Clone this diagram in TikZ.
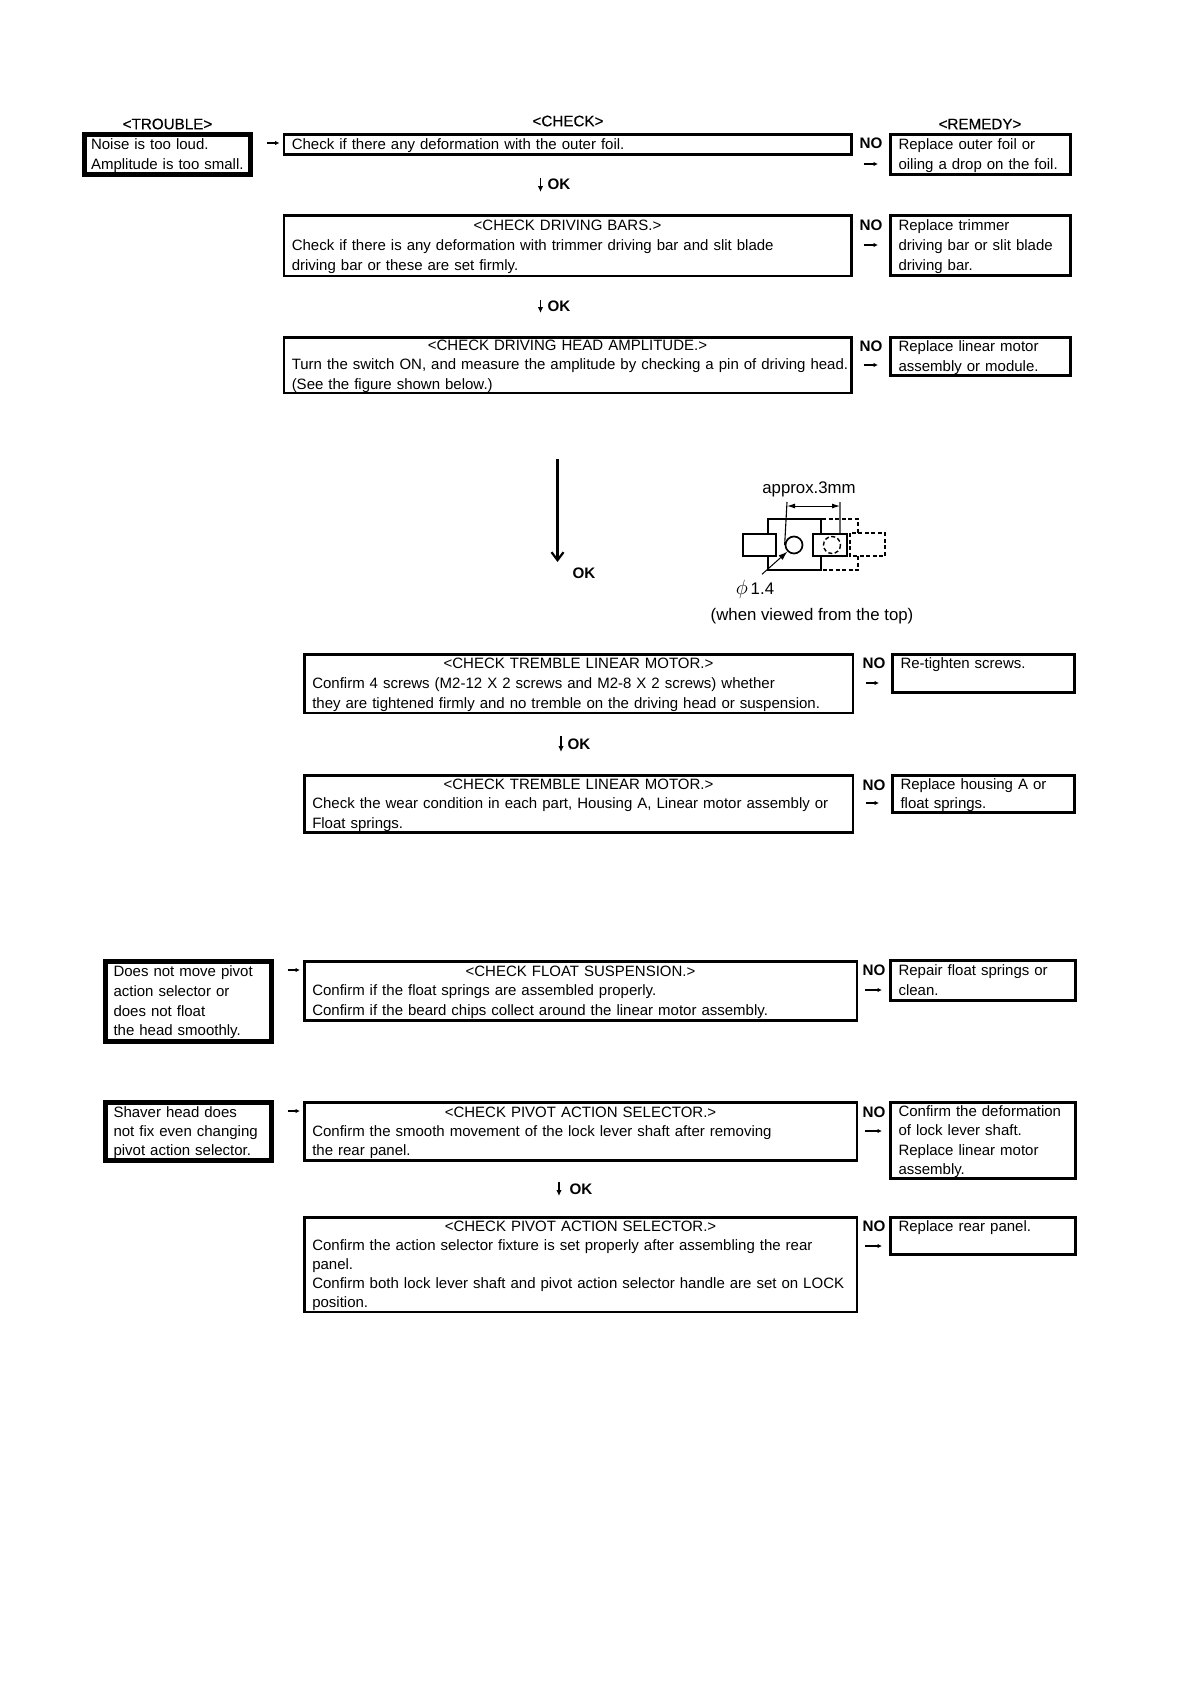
\documentclass[tikz,border=0pt]{standalone}
\usepackage{fontspec}
\setmainfont{Liberation Sans}
\usepackage{tikz}
\usetikzlibrary{positioning,arrows.meta,calc}
\newcommand{\chkhead}[1]{\makebox[\linewidth][c]{#1}}

\begin{document}
\begin{tikzpicture}[
  x=1pt, y=-1pt,
  every node/.style={font=\fontsize{15}{19.7}\selectfont},
  dense/.style={font=\fontsize{15}{19.2}\selectfont},
  chkbox/.style={draw, line width=2.5, anchor=north west, align=left,
    inner xsep=8, inner ysep=0, text width=#1,
    execute at begin node={\rule{0pt}{13pt}},
    execute at end node={\rule[-3pt]{0pt}{3pt}}},
  rembox/.style={chkbox=#1, line width=3},
  trbbox/.style={chkbox=#1, line width=5},
  head/.style={font=\fontsize{15.2}{19.7}\selectfont\addfontfeature{FakeBold=0.3}},
  nolbl/.style={font=\fontsize{15.2}{19.7}\selectfont\bfseries},
  figlbl/.style={font=\fontsize{16.8}{20}\selectfont},
  figline/.style={line width=1.5},
  figrect/.style={draw, rectangle, line width=2, inner sep=0},
  figdash/.style={line width=1.4, dash pattern=on 4pt off 2.5pt},
  flow/.style={-{Latex[length=4.5,width=4.5]}, line width=1.1, shorten <=14, shorten >=3},
  noflow/.style={-{Latex[length=4.5,width=4.5]}, line width=1.1, shorten <=#1, shorten >=#1},
  okflow/.style={-{Latex[length=6,width=5.5]}, line width=1.8, shorten <=#1, shorten >=#1},
  longflow/.style={-{Straight Barb[length=8,width=12]}, line width=2.2}
]
\useasboundingbox (0,0) rectangle (1190,1684);

% column titles
\node[head] (htrouble) at (167.5,124) {<TROUBLE>};
\node[head] (hcheck) at (568,121) {<CHECK>};
\node[head] (hremedy) at (980,124) {<REMEDY>};

% first trouble, upper chain
\node[trbbox=153, inner xsep=6.5, minimum height=40] (t1) at (82,132)
  {Noise is too loud.\\\mbox{Amplitude is too small.}};
\node[chkbox=551.5, minimum height=20] (c1) at (282.5,133)
  {Check if there any deformation with the outer foil.};
\node[chkbox=551.5, minimum height=60.5] (c2) at (282.5,214)
  {\chkhead{<CHECK DRIVING BARS.>}\\
   Check if there is any deformation with trimmer driving bar and slit blade\\
   driving bar or these are set firmly.};
\node[chkbox=551.5, dense, minimum height=55.5] (c3) at (282.5,336)
  {\chkhead{<CHECK DRIVING HEAD AMPLITUDE.>}\\
   \mbox{Turn the switch ON, and measure the amplitude by checking a pin of driving head.}\\
   (See the figure shown below.)};
\node[rembox=164, minimum height=40] (r1) at (889,133)
  {Replace outer foil or\\oiling a drop on the foil.};
\node[rembox=164, minimum height=60] (r2) at (889,214)
  {Replace trimmer\\driving bar or slit blade\\driving bar.};
\node[rembox=164, minimum height=37.5] (r3) at (889,336)
  {Replace linear motor\\assembly or module.};

% lower chain of the first trouble
\node[chkbox=532.5, minimum height=58.5] (c4) at (303,653)
  {\chkhead{<CHECK TREMBLE LINEAR MOTOR.>}\\
   Confirm 4 screws (M2-12 X 2 screws and M2-8 X 2 screws) whether\\
   they are tightened firmly and no tremble on the driving head or suspension.};
\node[chkbox=532.5, minimum height=57] (c5) at (303,774)
  {\chkhead{<CHECK TREMBLE LINEAR MOTOR.>}\\
   Check the wear condition in each part, Housing A, Linear motor assembly or\\
   Float springs.};
\node[rembox=166, minimum height=38] (r4) at (891,653)
  {Re-tighten screws.\\\mbox{}};
\node[rembox=166, minimum height=37] (r5) at (891,774)
  {Replace housing A or\\float springs.};

% float suspension
\node[trbbox=149.5, minimum height=79.5] (t3) at (103,959)
  {Does not move pivot\\action selector or\\does not float\\the head smoothly.};
\node[chkbox=536.5, minimum height=59] (c6) at (303,960)
  {\chkhead{<CHECK FLOAT SUSPENSION.>}\\
   Confirm if the float springs are assembled properly.\\
   Confirm if the beard chips collect around the linear motor assembly.};
\node[rembox=169, minimum height=39.5] (r6) at (889,959)
  {Repair float springs or\\clean.};

% pivot action selector
\node[trbbox=149.5, dense, minimum height=58] (t4) at (103,1100)
  {Shaver head does\\not fix even changing\\pivot action selector.};
\node[chkbox=536.5, dense, minimum height=58] (c7) at (303,1101)
  {\chkhead{<CHECK PIVOT ACTION SELECTOR.>}\\
   Confirm the smooth movement of the lock lever shaft after removing\\
   the rear panel.};
\node[chkbox=536.5, dense, minimum height=94.5] (c8) at (303,1216)
  {\chkhead{<CHECK PIVOT ACTION SELECTOR.>}\\
   Confirm the action selector fixture is set properly after assembling the rear\\
   panel.\\
   Confirm both lock lever shaft and pivot action selector handle are set on LOCK\\
   position.};
\node[rembox=169, dense, minimum height=76] (r7) at (889,1101)
  {Confirm the deformation\\of lock lever shaft.\\Replace linear motor\\assembly.};
\node[rembox=169, minimum height=37] (r8) at (889,1216)
  {Replace rear panel.\\\mbox{}};

% NO and OK labels
\node[nolbl] (no1) at (871,143) {NO};
\node[nolbl] (no2) at (871,225) {NO};
\node[nolbl] (no3) at (871,346) {NO};
\node[nolbl] (no4) at (874,663) {NO};
\node[nolbl] (no5) at (874,785) {NO};
\node[nolbl] (no6) at (874,970) {NO};
\node[nolbl] (no7) at (874,1112) {NO};
\node[nolbl] (no8) at (874,1226) {NO};
\node[nolbl] (ok1) at (559,184) {OK};
\node[nolbl] (ok2) at (559,306) {OK};
\node[nolbl] (ok3) at (584,573) {OK};
\node[nolbl] (ok4) at (579,744) {OK};
\node[nolbl] (ok5) at (581,1189) {OK};

% trouble to first check
\draw[flow] ([yshift=-11]t1.north east) -- ([yshift=-10]c1.north west);
\draw[flow] ([yshift=-11]t3.north east) -- ([yshift=-10]c6.north west);
\draw[flow] ([yshift=-11]t4.north east) -- ([yshift=-10]c7.north west);

% check to remedy
\draw[noflow=11] ([yshift=-31]c1.north east) -- ([yshift=-31]r1.north west);
\draw[noflow=11] ([yshift=-31]c2.north east) -- ([yshift=-31]r2.north west);
\draw[noflow=11] ([yshift=-29]c3.north east) -- ([yshift=-29]r3.north west);
\draw[noflow=12] ([yshift=-30]c4.north east) -- ([yshift=-30]r4.north west);
\draw[noflow=12] ([yshift=-29]c5.north east) -- ([yshift=-29]r5.north west);
\draw[noflow=7] ([yshift=-30]c6.north east) -- ([yshift=-31]r6.north west);
\draw[noflow=7] ([yshift=-30]c7.north east) -- ([yshift=-30]r7.north west);
\draw[noflow=7] ([yshift=-30]c8.north east) -- ([yshift=-30]r8.north west);

% OK arrows, beside the labels
\draw[okflow=22] ([xshift=-27]c1.south) -- ([xshift=-27]c2.north);
\draw[okflow=23] ([xshift=-27]c2.south) -- ([xshift=-27]c3.north);
\draw[okflow=22] ([xshift=-17.5]c4.south) -- ([xshift=-17.5]c5.north);
\draw[okflow=20] ([xshift=-21.5]c7.south) -- ([xshift=-21.5]c8.north);
\draw[longflow, shorten <=65, shorten >=91] ([xshift=-10]c3.south) -- ([xshift=-10]c3.south |- c4.north);

% figure of the driving head pin
\node[draw, circle, line width=1.7, minimum size=17, inner sep=0] (pin) at (794,545) {};
\node[figrect, minimum width=33, minimum height=22] (lefthead) at (759,544.5) {};
\node[figrect, minimum width=34, minimum height=22] (righthead) at (829.5,544.5) {};
\node[figlbl] (appr) at (809,489.5) {approx.3mm};
\node[figlbl] (phi) at (755,589) {\scalebox{1.2}{$\phi$}\,1.4};
\node[figlbl] (view) at (812,616.5) {(when viewed from the top)};
\draw[figline] (lefthead.north -| 768,0) -- (768,519) -- (821,519) -- (821,533);
\draw[figline] (lefthead.south -| 768,0) -- (768,570) -- (821,570) -- (821,556);
\draw[figdash] (822,519) -- (858,519) -- (858,533);
\draw[figdash] (858,556) -- (858,570) -- (822,570);
\draw[figdash] (850,533) rectangle (885,556);
\draw[figdash] (832,545) circle (8.5);
\draw[line width=1.1] (pin.west) -- (787,502);
\draw[line width=1.1, black!60] (840,533) -- (840,502);
\draw[{Latex[length=8,width=5]}-{Latex[length=8,width=5]}, line width=1] (787,506) -- (840,506);
\draw[-{Latex[length=9,width=6]}, line width=1] ([xshift=7,yshift=2]phi.north) -- (pin.south west);
\end{tikzpicture}
\end{document}
